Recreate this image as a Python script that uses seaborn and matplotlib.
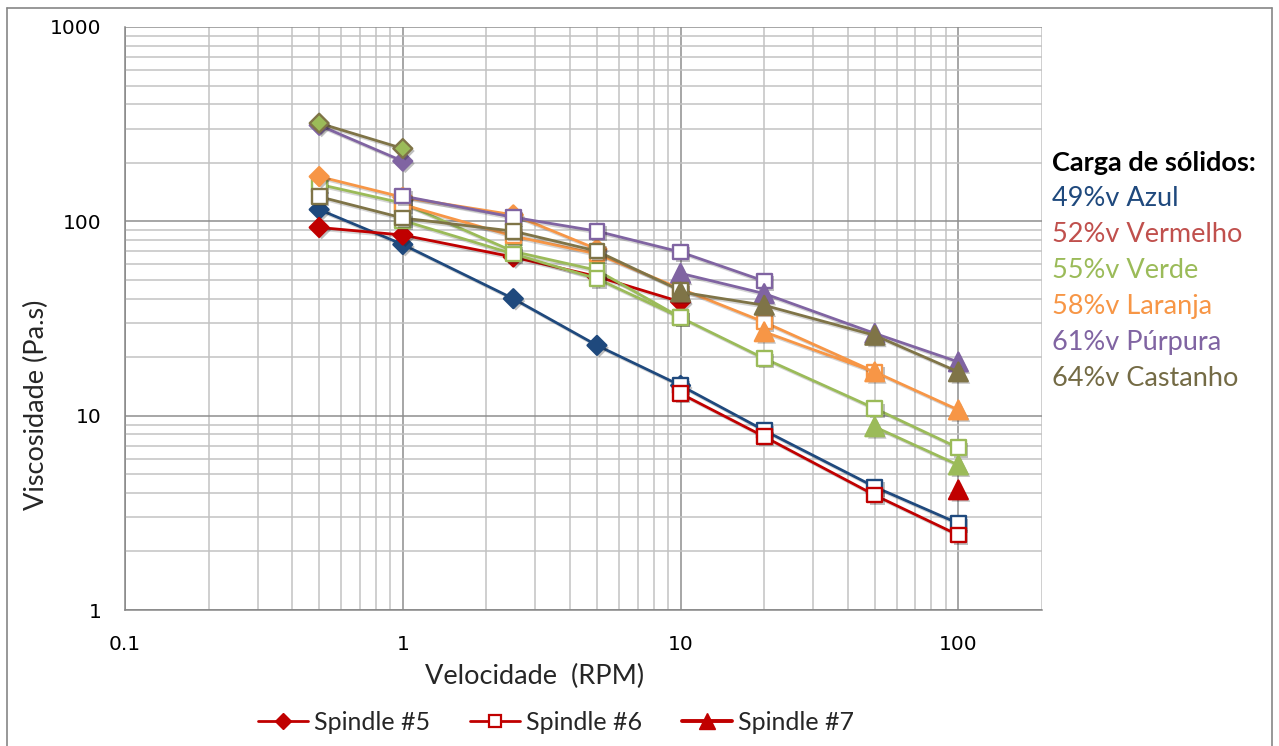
import matplotlib
matplotlib.use("Agg")
import matplotlib.pyplot as plt
import matplotlib.patheffects as pe
from matplotlib.lines import Line2D
import seaborn as sns

# ---------------- data ----------------
xtick_vals = [0.1, 1, 10, 100]
xtick_labels = ["0.1", "1", "10", "100"]
ytick_vals = [1, 10, 100, 1000]
ytick_labels = ["1", "10", "100", "1000"]

# 49%v Azul
azul_s5_rpm = [0.5, 1, 2.5, 5, 10]
azul_s5_visc = [115, 76, 40, 23, 14.3]
azul_s6_rpm = [10, 20, 50, 100]
azul_s6_visc = [14.3, 8.4, 4.3, 2.79]

# 52%v Vermelho
verm_s5_rpm = [0.5, 1, 2.5, 5, 10]
verm_s5_visc = [93, 85, 65.5, 52, 38.5]
verm_s6_rpm = [10, 20, 50, 100]
verm_s6_visc = [13.0, 7.8, 3.9, 2.43]
verm_s7_rpm = [100]
verm_s7_visc = [4.15]

# 55%v Verde
verde_a_rpm = [0.5, 1, 2.5, 5, 10]
verde_a_visc = [155, 124, 70, 56, 32]
verde_b_rpm = [1, 2.5, 5, 10, 20, 50, 100]
verde_b_visc = [101, 68, 50.7, 32, 19.7, 10.9, 6.83]
verde_s7_rpm = [50, 100]
verde_s7_visc = [8.76, 5.57]

# 58%v Laranja
lar_s5_rpm = [0.5, 1, 2.5, 5]
lar_s5_visc = [170, 133, 108, 72]
lar_s6_rpm = [1, 2.5, 5, 10, 20, 50]
lar_s6_visc = [122, 84, 68, 45, 30.3, 16.8]
lar_s7_rpm = [20, 50, 100]
lar_s7_visc = [27, 16.8, 10.7]

# 61%v Purpura
pur_s5_rpm = [0.5, 1]
pur_s5_visc = [312, 204]
pur_s6_rpm = [1, 2.5, 5, 10, 20]
pur_s6_visc = [135, 105, 89, 69.5, 49.3]
pur_s7_rpm = [10, 20, 50, 100]
pur_s7_visc = [54, 42.5, 26.5, 18.9]

# 64%v Castanho
cas_s5_rpm = [0.5, 1]
cas_s5_visc = [320, 237]
cas_s6_rpm = [0.5, 1, 2.5, 5, 10]
cas_s6_visc = [134, 104, 89, 70.3, 44]
cas_s7_rpm = [10, 20, 50, 100]
cas_s7_visc = [43.3, 37, 25.9, 16.8]

legend_labels = ["Spindle #5", "Spindle #6", "Spindle #7"]
box_title = "Carga de sólidos:"
box_lines = ["49%v Azul", "52%v Vermelho", "55%v Verde",
             "58%v Laranja", "61%v Púrpura", "64%v Castanho"]

# ---------------- styles ----------------
C_AZUL = "#1F497D"
C_VERM = "#C00000"
C_VERDE = "#9BBB59"
C_LAR = "#F79646"
C_PUR = "#8064A2"
C_CAS = "#7F7447"
box_colors = [C_AZUL, "#C0504D", C_VERDE, C_LAR, C_PUR, "#746B45"]

sns.set_theme(style="white")
plt.rcParams["font.family"] = ["Lato", "DejaVu Sans"]

W, H = 1279, 746
fig = plt.figure(figsize=(W / 100, H / 100), dpi=100)
ax = fig.add_axes([125 / W, 1 - 610 / H, (1042 - 125) / W, (610 - 27) / H])
ax.set_xscale("log")
ax.set_yscale("log")
ax.set_xlim(0.1, 200)
ax.set_ylim(1, 1000)

line_fx = [pe.SimpleLineShadow(offset=(1.5, -1.5), shadow_color="k", alpha=0.18), pe.Normal()]
mark_fx = [pe.SimplePatchShadow(offset=(1.8, -1.8), shadow_rgbFace="k", alpha=0.28), pe.Normal()]

MS = {"D": 92, "s": 112, "^": 180}

z = [3]


def series(xs, ys, color, marker, face, edge=None):
    edge = color if edge is None else edge
    if len(xs) > 1:
        sns.lineplot(x=xs, y=ys, color=color, linewidth=2.0, sort=False,
                     estimator=None, ax=ax, legend=False, zorder=z[0])
        ax.lines[-1].set_path_effects(line_fx)
    sns.scatterplot(x=xs, y=ys, marker=marker, s=MS[marker], color=face,
                    edgecolor=edge, linewidth=1.7, ax=ax, legend=False,
                    zorder=z[0] + 0.5)
    ax.collections[-1].set_path_effects(mark_fx)
    z[0] += 1


series(azul_s5_rpm, azul_s5_visc, C_AZUL, "D", C_AZUL)
series(azul_s6_rpm, azul_s6_visc, C_AZUL, "s", "white")
series(verm_s5_rpm, verm_s5_visc, C_VERM, "D", C_VERM)
series(verm_s6_rpm, verm_s6_visc, C_VERM, "s", "white")
series(verm_s7_rpm, verm_s7_visc, C_VERM, "^", C_VERM)
series(verde_a_rpm, verde_a_visc, C_VERDE, "s", "white")
series(verde_b_rpm, verde_b_visc, C_VERDE, "s", "white")
series(verde_s7_rpm, verde_s7_visc, C_VERDE, "^", C_VERDE)
series(lar_s5_rpm, lar_s5_visc, C_LAR, "D", C_LAR)
series(lar_s6_rpm, lar_s6_visc, C_LAR, "s", "white")
series(lar_s7_rpm, lar_s7_visc, C_LAR, "^", C_LAR)
series(pur_s5_rpm, pur_s5_visc, C_PUR, "D", C_PUR)
series(pur_s6_rpm, pur_s6_visc, C_PUR, "s", "white")
series(pur_s7_rpm, pur_s7_visc, C_PUR, "^", C_PUR)
series(cas_s5_rpm, cas_s5_visc, C_CAS, "D", C_VERDE, edge=C_CAS)
series(cas_s6_rpm, cas_s6_visc, C_CAS, "s", "white")
series(cas_s7_rpm, cas_s7_visc, C_CAS, "^", C_CAS)

# ---------------- axes styling ----------------
ax.xaxis.set_minor_locator(matplotlib.ticker.LogLocator(base=10, subs=range(2, 10), numticks=20))
ax.yaxis.set_minor_locator(matplotlib.ticker.LogLocator(base=10, subs=range(2, 10), numticks=20))
ax.set_xticks(xtick_vals, labels=xtick_labels)
ax.set_yticks(ytick_vals, labels=ytick_labels)
ax.xaxis.set_minor_formatter(matplotlib.ticker.NullFormatter())
ax.yaxis.set_minor_formatter(matplotlib.ticker.NullFormatter())
ax.set_xlim(0.1, 200)
ax.set_ylim(1, 1000)

ax.grid(True, which="major", color="#8E8E8E", linewidth=1.1, zorder=0)
ax.grid(True, which="minor", color="#C2C2C2", linewidth=1.1, zorder=0)
ax.set_axisbelow(True)
for s in ["top", "right"]:
    ax.spines[s].set_visible(False)
for s in ["left", "bottom"]:
    ax.spines[s].set_color("#868686")
    ax.spines[s].set_linewidth(1.1)
ax.tick_params(which="major", direction="out", length=5, width=1.1, color="#868686",
               labelsize=14.5, labelcolor="black")
ax.tick_params(which="minor", length=0)
ax.tick_params(axis="y", pad=12)
ax.tick_params(axis="x", pad=13)
for lab in ax.get_xticklabels() + ax.get_yticklabels():
    lab.set_fontfamily("DejaVu Sans")

# axis titles
fig.text(535 / W, 1 - 676 / H, "Velocidade  (RPM)", fontsize=19.5, ha="center", va="center")
fig.text(36 / W, 1 - 405 / H, "Viscosidade (Pa.s)", fontsize=19.5, ha="center", va="center",
         rotation=90)

# text box
fig.text(1052 / W, 1 - 163 / H, box_title, fontsize=19.5, fontweight="bold",
         ha="left", va="center", color="black")
for i, (t, c) in enumerate(zip(box_lines, box_colors)):
    fig.text(1052 / W, 1 - (199 + 35.8 * i) / H, t, fontsize=19.5, ha="left",
             va="center", color=c)

# legend
handles = [
    Line2D([], [], color=C_VERM, lw=2, marker="D", ms=8.5, mfc=C_VERM, mec=C_VERM),
    Line2D([], [], color=C_VERM, lw=2, marker="s", ms=8.5, mfc="white", mec=C_VERM, mew=1.6),
    Line2D([], [], color=C_VERM, lw=2.8, marker="^", ms=11, mfc=C_VERM, mec=C_VERM),
]
fig.legend(handles, legend_labels, loc="center", bbox_to_anchor=(556 / W, 1 - 722 / H),
           ncol=3, frameon=False, fontsize=18, handlelength=2.0, handletextpad=0.25,
           columnspacing=1.6)

# outer chart border
bx = dict(color="#868686", linewidth=1.2, transform=fig.transFigure)
fig.add_artist(Line2D([7 / W, 7 / W], [1 - 8 / H, 0], **bx))
fig.add_artist(Line2D([7 / W, 1272 / W], [1 - 8 / H, 1 - 8 / H], **bx))
fig.add_artist(Line2D([1272 / W, 1272 / W], [1 - 8 / H, 0], **bx))

fig.savefig("out.png", dpi=100)
